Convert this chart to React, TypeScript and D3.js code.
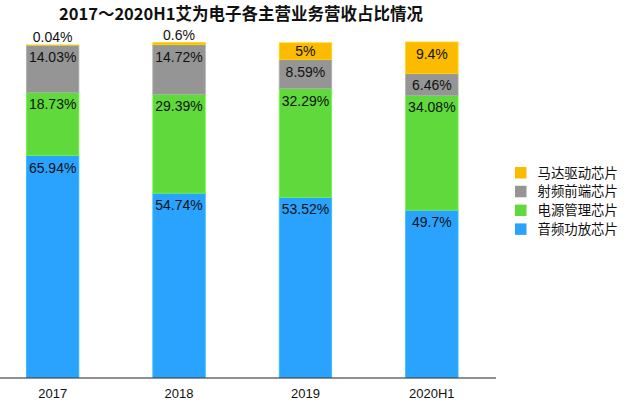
import { useEffect, useRef } from "react";
import * as d3 from "d3";

// chart data
const years = ["2017", "2018", "2019", "2020H1"];
const seriesNames = ["音频功放芯片", "电源管理芯片", "射频前端芯片", "马达驱动芯片"];
const audioAmp = [65.94, 54.74, 53.52, 49.7];
const powerMgmt = [18.73, 29.39, 32.29, 34.08];
const rfFrontEnd = [14.03, 14.72, 8.59, 6.46];
const motorDrive = [0.04, 0.6, 5, 9.4];
const colors = ["#2aa3ff", "#5fd93b", "#959595", "#fcbb00"];

const title = "2017～2020H1艾为电子各主营业务营收占比情况";

export default function App() {
  const svgRef = useRef<SVGSVGElement>(null);

  useEffect(() => {
    const svg = svgRef.current;
    if (!svg) return;
    d3.select(svg).selectAll("*").remove();

    const width = 640;
    const height = 408;
    const baseY = 377.5;
    const axisEnd = 496;

    const rows = years.map((year, i) => ({
      year,
      values: [audioAmp[i], powerMgmt[i], rfFrontEnd[i], motorDrive[i]],
    }));

    const x = d3
      .scaleBand<string>()
      .domain(years)
      .range([-11.5, 496])
      .paddingInner(0.585)
      .paddingOuter(0.3);

    const y = d3.scaleLinear().domain([0, 100]).range([baseY, 40.8]);

    const root = d3.select(svg).attr("width", width).attr("height", height);

    root
      .append("rect")
      .attr("width", width)
      .attr("height", height)
      .attr("fill", "#fff");

    // Title
    root
      .append("text")
      .attr("x", 241)
      .attr("y", 20)
      .attr("text-anchor", "middle")
      .attr("font-family", "'Noto Sans CJK SC', sans-serif")
      .attr("font-weight", "bold")
      .attr("font-size", 16.5)
      .attr("fill", "#111")
      .text(title);

    const g = root.append("g");

    rows.forEach((row) => {
      let acc = 0;
      const x0 = x(row.year) ?? 0;
      const bw = x.bandwidth();
      row.values.forEach((v, s) => {
        const bottom = y(acc);
        const top = y(acc + v);
        acc += v;
        g.append("rect")
          .attr("x", x0)
          .attr("y", top)
          .attr("width", bw)
          .attr("height", Math.max(0, bottom - top))
          .attr("fill", colors[s])
          .attr("stroke", d3.color(colors[s])!.brighter(0.4).formatHex())
          .attr("stroke-width", 0.8);

        // value labels: tiny segments sit above the bar
        const ly = v < 1 ? top - 8 : Math.min(top + 12, (top + bottom) / 2);
        g.append("text")
          .attr("x", x0 + bw / 2)
          .attr("y", ly)
          .attr("dy", "0.36em")
          .attr("text-anchor", "middle")
          .attr("font-family", "'Liberation Sans', Arial, sans-serif")
          .attr("font-size", 14)
          .attr("fill", "#111")
          .text(`${v}%`);
      });
    });

    // X axis
    g.append("line")
      .attr("x1", 0)
      .attr("x2", axisEnd)
      .attr("y1", baseY + 0.5)
      .attr("y2", baseY + 0.5)
      .attr("stroke", "#222")
      .attr("stroke-width", 1.2);

    g.selectAll("text.tick")
      .data(years)
      .enter()
      .append("text")
      .attr("class", "tick")
      .attr("x", (d) => (x(d) ?? 0) + x.bandwidth() / 2)
      .attr("y", 397.5)
      .attr("text-anchor", "middle")
      .attr("font-family", "'Liberation Sans', Arial, sans-serif")
      .attr("font-size", 13)
      .attr("fill", "#111")
      .text((d) => d);

    // Legend (reverse order, top item is the top segment)
    const legend = root.append("g").attr("transform", "translate(515,167)");
    const order = [3, 2, 1, 0];
    order.forEach((s, i) => {
      const item = legend.append("g").attr("transform", `translate(0,${i * 18.8})`);
      item
        .append("rect")
        .attr("width", 11.5)
        .attr("height", 11.5)
        .attr("fill", colors[s]);
      item
        .append("text")
        .attr("x", 22.5)
        .attr("y", 5.8)
        .attr("dy", "0.36em")
        .attr("font-family", "'Noto Sans CJK SC', sans-serif")
        .attr("font-size", 13.4)
        .attr("fill", "#111")
        .text(seriesNames[s]);
    });
  }, []);

  return (
    <div style={{ position: "fixed", left: 0, top: 0 }}>
      <svg ref={svgRef} style={{ display: "block" }} />
    </div>
  );
}
